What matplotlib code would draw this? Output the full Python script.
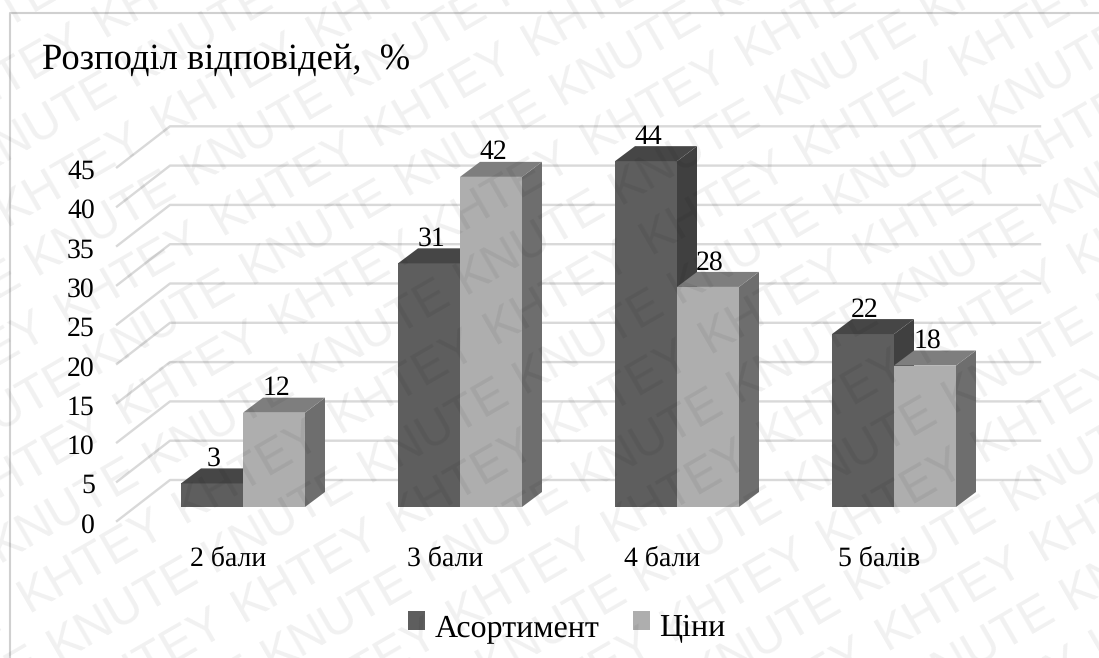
#!/usr/bin/env python3
"""Розподіл відповідей: pseudo-3D clustered columns with a repeating watermark."""
import matplotlib
matplotlib.use('Agg')
import matplotlib.pyplot as plt
from matplotlib.patches import Patch, Polygon

categories = ['2 бали', '3 бали', '4 бали', '5 балів']
series_names = ['Асортимент', 'Ціни']
assortment = [3, 31, 44, 22]
prices = [12, 42, 28, 18]
y_ticks = [0, 5, 10, 15, 20, 25, 30, 35, 40, 45]
title = 'Розподіл відповідей,  %'
wm_words = ['KNUTE', 'KHTEY']

W, H = 1099, 658
PX_PER_CAT = 217.0   # pixels between category centres
PX_PER_UNIT = 7.86   # pixels per percent
X0, Y0 = 243.0, 507.0  # pixel position of first category on the bar baseline

# depth of the columns and of the back wall, in data units
BAR_W = 62 / PX_PER_CAT
BAR_DX = 20 / PX_PER_CAT
BAR_DY = 15 / PX_PER_UNIT
WALL_LEFT = (170 - X0) / PX_PER_CAT
WALL_RIGHT = (1040 - X0) / PX_PER_CAT
FLOOR_LEFT = (117 - X0) / PX_PER_CAT
WALL_UP = 27 / PX_PER_UNIT
FLOOR_DOWN = 14 / PX_PER_UNIT

DARK = {'front': '#5e5e5e', 'side': '#404040', 'top': '#464646'}
LIGHT = {'front': '#aeaeae', 'side': '#6e6e6e', 'top': '#7e7e7e'}
GRID = '#d9d9d9'

plt.rcParams.update({
    'font.family': ['Liberation Serif', 'DejaVu Serif'],
    'figure.facecolor': 'white',
    'text.hinting': 'no_hinting',
})

fig = plt.figure(figsize=(W / 100, H / 100), dpi=100)
ax = fig.add_axes([0, 0, 1, 1])
ax.set_xlim(-X0 / PX_PER_CAT, (W - X0) / PX_PER_CAT)
ax.set_ylim((Y0 - H) / PX_PER_UNIT, Y0 / PX_PER_UNIT)
ax.axis('off')


def column(x, v, colors, z):
    """Front, side and top faces of one column."""
    x1 = x + BAR_W
    ax.add_patch(Polygon([(x, 0), (x1, 0), (x1, v), (x, v)],
                         fc=colors['front'], ec='none', zorder=z))
    ax.add_patch(Polygon([(x1, 0), (x1 + BAR_DX, BAR_DY), (x1 + BAR_DX, v + BAR_DY), (x1, v)],
                         fc=colors['side'], ec='none', zorder=z))
    ax.add_patch(Polygon([(x, v), (x1, v), (x1 + BAR_DX, v + BAR_DY), (x + BAR_DX, v + BAR_DY)],
                         fc=colors['top'], ec='none', zorder=z))


# back wall grid with its slanted part on the side wall
for v in y_ticks:
    ax.plot([FLOOR_LEFT, WALL_LEFT, WALL_RIGHT],
            [v - FLOOR_DOWN, v + WALL_UP, v + WALL_UP],
            color=GRID, lw=1.7, zorder=1, solid_joinstyle='round')
    ax.text(-0.683, v - FLOOR_DOWN - 0.6, str(v), ha='right', va='center',
            fontsize=20, color='black', zorder=6)

for i, name in enumerate(categories):
    column(i - BAR_W, assortment[i], DARK, 2 + i * 2)
    column(i, prices[i], LIGHT, 3 + i * 2)
    ax.annotate(str(assortment[i]), (i - BAR_W / 2, assortment[i]),
                xytext=(1.5, 17.5), textcoords='offset points',
                ha='center', va='center', fontsize=20, zorder=20)
    ax.annotate(str(prices[i]), (i + BAR_W / 2, prices[i]),
                xytext=(1.5, 17.5), textcoords='offset points',
                ha='center', va='center', fontsize=20, zorder=20)
    ax.text(i - 0.069, -6.6, name, ha='center', va='center', fontsize=20, zorder=6)

fig.text(42 / W, 1 - 69 / H, title, fontsize=26.3, ha='left', va='baseline', zorder=6)

legend = fig.legend(handles=[Patch(fc=DARK['front'], label=series_names[0]),
                             Patch(fc=LIGHT['front'], label=series_names[1])],
                    loc='center', bbox_to_anchor=(567 / W, 1 - 628 / H), ncol=2, frameon=False,
                    fontsize=23, handlelength=0.53, handleheight=0.53,
                    handletextpad=0.31, columnspacing=1.02, borderpad=0, borderaxespad=0)
# the keys sit a little above the text baseline
for handle in legend.legend_handles:
    handle.set_y(handle.get_y() + 3)

# outer frame, open at the right and bottom
ax.plot([(10 - X0) / PX_PER_CAT, (10 - X0) / PX_PER_CAT, (W - X0) / PX_PER_CAT],
        [(Y0 - H) / PX_PER_UNIT, (Y0 - 13) / PX_PER_UNIT, (Y0 - 13) / PX_PER_UNIT],
        color='#d0d0d0', lw=1.5, zorder=1)

# watermark: rows of one repeated word, rows alternate between the two words
ALONG = (155.4, -89.4)   # from one word to the next in a row, pixels
ACROSS = (29.5, 49.5)    # from one row to the next, pixels
for row in range(-12, 16):
    word = wm_words[(row + 1) % 2]
    for k in range(-12, 16):
        px = 805 + row * ACROSS[0] + k * ALONG[0]
        py = 166 + row * ACROSS[1] + k * ALONG[1]
        if -170 < px < W + 20 and -20 < py < H + 110:
            fig.text(px / W, 1 - py / H, word, family='Liberation Sans', fontsize=35,
                     color='black', alpha=0.06, rotation=30, rotation_mode='anchor',
                     ha='left', va='baseline', zorder=30)

fig.savefig('out.png', dpi=100)
plt.close(fig)
